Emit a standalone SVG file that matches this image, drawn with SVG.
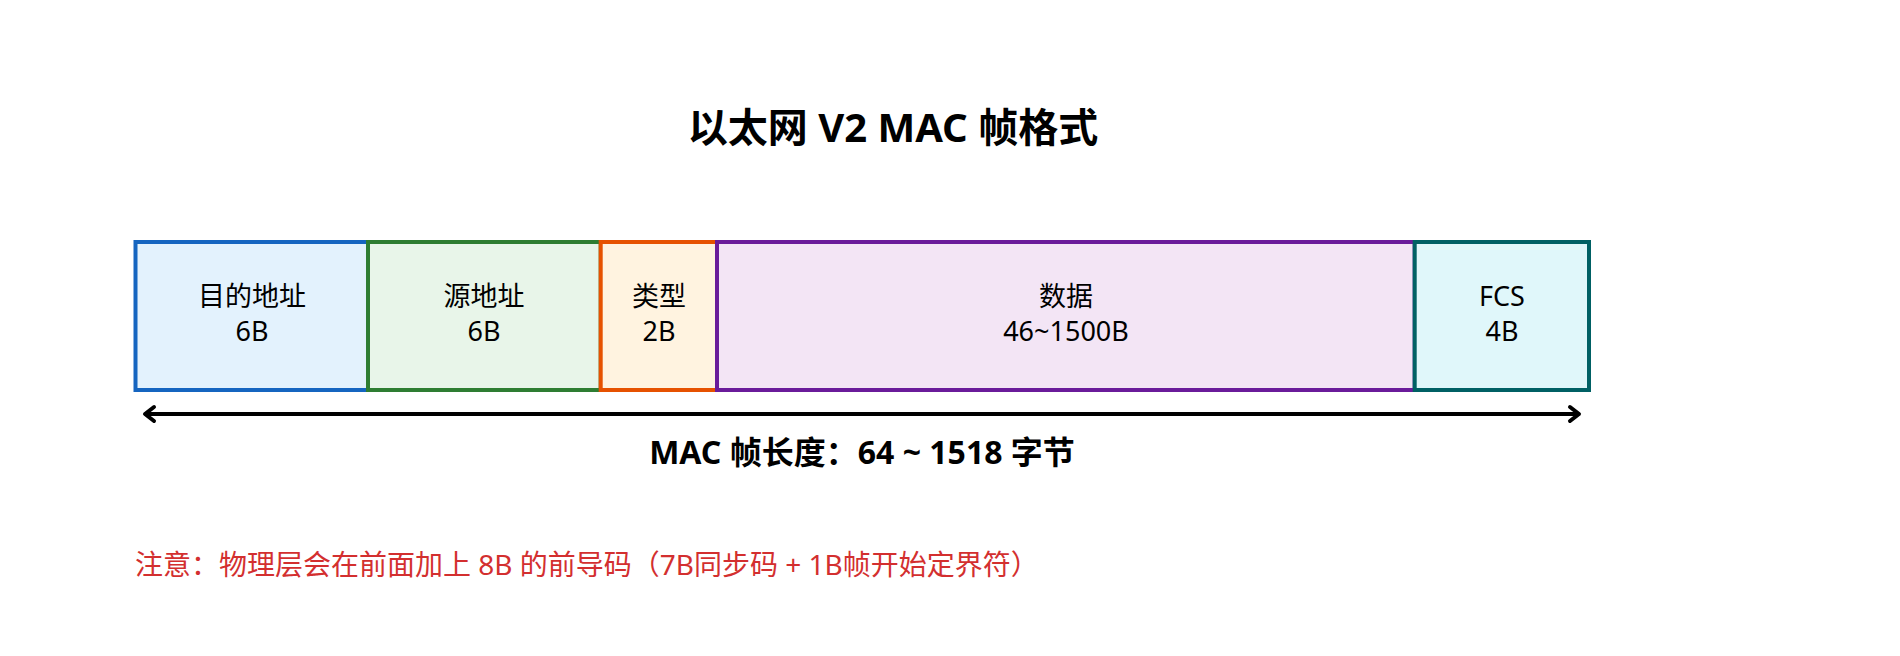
<svg xmlns="http://www.w3.org/2000/svg" width="1900" height="656" viewBox="0 0 1900 656">
<style>
  text { font-family: "Noto Sans", "Noto Sans CJK SC", sans-serif; }
  .title { font-size: 40px; font-weight: bold; fill: #000; text-anchor: middle; }
  .lbl { font-size: 27px; fill: #000; text-anchor: middle; }
  .len { font-size: 32px; font-weight: bold; fill: #000; text-anchor: middle; }
  .note { font-size: 28px; fill: #d32f2f; }
  .box { stroke-width: 4; }
  .conn { stroke: #000; stroke-width: 4; fill: none; }
</style>
<defs>
  <marker id="arr" markerUnits="userSpaceOnUse" markerWidth="24" markerHeight="24" viewBox="-12 -12 24 24" refX="0" refY="0" orient="auto-start-reverse">
    <path d="M-9,-7 L0,0 L-9,7" fill="none" stroke="#000" stroke-width="4" stroke-linecap="round" stroke-linejoin="round"/>
  </marker>
</defs>
<rect width="1900" height="656" fill="#fff"/>
<text class="title" x="893" y="142">以太网 V2 MAC 帧格式</text>
<g id="dst">
  <rect class="box" x="135.5" y="242" width="232.5" height="148" fill="#e3f2fd" stroke="#1565c0"/>
  <text class="lbl" x="252" y="306">目的地址</text>
  <text class="lbl" x="252" y="341">6B</text>
</g>
<g id="src">
  <rect class="box" x="368" y="242" width="232.7" height="148" fill="#e8f5e9" stroke="#2e7d32"/>
  <text class="lbl" x="484" y="306">源地址</text>
  <text class="lbl" x="484" y="341">6B</text>
</g>
<g id="type">
  <rect class="box" x="600.7" y="242" width="116.3" height="148" fill="#fff3e0" stroke="#e65100"/>
  <text class="lbl" x="659" y="306">类型</text>
  <text class="lbl" x="659" y="341">2B</text>
</g>
<g id="data">
  <rect class="box" x="717" y="242" width="697.7" height="148" fill="#f3e5f5" stroke="#6a1b9a"/>
  <text class="lbl" x="1066" y="306">数据</text>
  <text class="lbl" x="1066" y="341">46~1500B</text>
</g>
<g id="fcs">
  <rect class="box" x="1414.7" y="242" width="174.3" height="148" fill="#e0f7fa" stroke="#006064"/>
  <text class="lbl" x="1502" y="306">FCS</text>
  <text class="lbl" x="1502" y="341">4B</text>
</g>
<g id="connectors">
  <line class="conn" x1="145" y1="414" x2="1579" y2="414" marker-start="url(#arr)" marker-end="url(#arr)"/>
</g>
<text class="len" x="862" y="464">MAC 帧长度：64 ~ 1518 字节</text>
<text class="note" x="135" y="575">注意：物理层会在前面加上 8B 的前导码（7B同步码 + 1B帧开始定界符）</text>
</svg>
